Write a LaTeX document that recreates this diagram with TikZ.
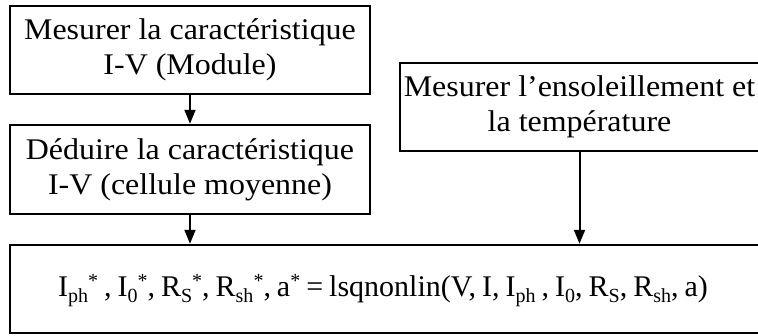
\documentclass[tikz,border=0pt]{standalone}
\usepackage{fontspec}
\setmainfont{Liberation Serif}[FakeStretch=1.065]
\newfontfamily\formule{Liberation Serif}[WordSpace=0.8]
\usetikzlibrary{arrows.meta}
\newcommand{\bas}[1]{\raisebox{-0.2em}{\fontsize{20}{20}\selectfont #1}}
\newcommand{\haut}[1]{\raisebox{0.3em}{\fontsize{20}{20}\selectfont #1}}
\begin{document}
\begin{tikzpicture}[x=1pt,y=1pt,
  etape/.style={draw,line width=2.5pt,align=center,inner sep=0pt},
  fleche/.style={-{Triangle[length=14pt,width=11pt]},line width=2pt}]
\fontsize{30}{35}\selectfont
\useasboundingbox (0,0) rectangle (758,-335);
\node[etape,minimum width=360,minimum height=88] (mesiv) at (190,-50) {Mesurer la caractéristique\\I-V (Module)};
\node[etape,minimum width=360,minimum height=89] (deduire) at (190,-169.5) {Déduire la caractéristique\\I-V (cellule moyenne)};
\node[etape,minimum width=359,minimum height=88] (ensol) at (579.5,-107) {Mesurer l’ensoleillement et\\la température};
\node[etape,minimum width=749,minimum height=88] (optim) at (384.5,-289) {};
\node[font=\formule] (optimtxt) at (383,-291) {I\bas{ph}\haut{*} , I\bas{0}\haut{*}, R\bas{S}\haut{*}, R\bas{sh}\haut{*}, a\haut{*} = lsqnonlin(V, I, I\bas{ph} , I\bas{0}, R\bas{S}, R\bas{sh}, a)};
\draw[fleche] (mesiv.south) -- (deduire.north);
\draw[fleche] (deduire.south) -- (deduire.south |- optim.north);
\draw[fleche] (ensol.south) -- (ensol.south |- optim.north);
\end{tikzpicture}
\end{document}
